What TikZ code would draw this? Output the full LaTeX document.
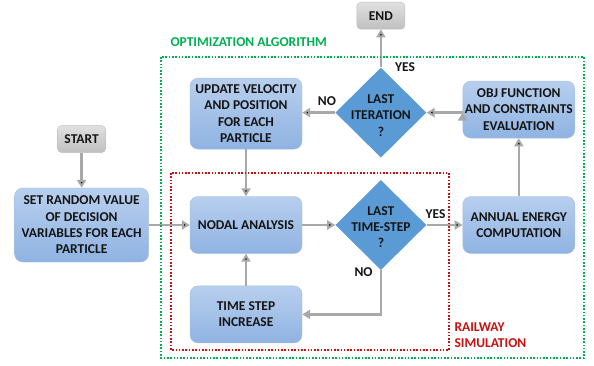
\documentclass[tikz,border=0pt]{standalone}
\usepackage{fontspec}
\setmainfont{Carlito}
\usetikzlibrary{arrows.meta,positioning,shapes.geometric}
\definecolor{boxtop}{RGB}{184,207,238}
\definecolor{boxbot}{RGB}{143,179,226}
\definecolor{boxline}{RGB}{165,192,230}
\definecolor{decfill}{RGB}{91,155,213}
\definecolor{termtop}{RGB}{224,224,224}
\definecolor{termbot}{RGB}{192,192,192}
\definecolor{flowgray}{RGB}{168,168,168}
\definecolor{optgreen}{RGB}{0,176,80}
\definecolor{simred}{RGB}{200,16,16}
\definecolor{inkdark}{RGB}{20,20,20}
\tikzstyle{block}=[rectangle,rounded corners=8pt,draw=boxline,
top color=boxtop,bottom color=boxbot,text=inkdark,align=center,
minimum width=112pt,minimum height=57pt,inner sep=2pt]
\tikzstyle{decision}=[diamond,fill=decfill,minimum width=91pt,
minimum height=90pt,inner sep=0pt]
\tikzstyle{terminal}=[rectangle,rounded corners=4pt,draw=termbot,
top color=termtop,bottom color=termbot,text=inkdark,
minimum width=48pt,minimum height=27pt]
\tikzstyle{flow}=[-{Triangle[length=8pt,width=9pt]},line width=2.6pt,draw=flowgray]
\tikzstyle{answer}=[text=inkdark,inner sep=1pt]
\tikzstyle{frame}=[line width=1.6pt,dash pattern=on 1.6pt off 1.7pt]

\begin{document}
\begin{tikzpicture}[x=1pt,y=-1pt,node distance=35pt,
  font=\fontsize{13.5}{16.3}\selectfont\bfseries,
  every label/.style={text=inkdark,align=center}]
            \useasboundingbox (0,0) rectangle (594,366);

            % RAILWAY SIMULATION PART

            \node[block] (nodal) at (246,225) {NODAL ANALYSIS};
            \node[decision,right=33pt of nodal,
              label={[yshift=-2pt]center:LAST\\TIME-STEP\\?}] (tsdec) {};
            \node[block,below=32pt of nodal] (timestep) {TIME STEP\\INCREASE};

            \path[flow] (nodal) edge node {} (tsdec);
            \path[flow] (timestep) edge node {} (nodal);
            \draw[flow] (tsdec.south) |- node[answer,pos=0,left=6pt,yshift=-2pt] {NO} (timestep.east);

            % OPTIMIZATION PART

            \node[block,right=36pt of tsdec] (annual) {ANNUAL ENERGY\\COMPUTATION};
            \node[decision,above=22pt of tsdec,
              label={[yshift=-3pt]center:LAST\\ITERATION\\?}] (itdec) {};
            \node[block,right=36pt of itdec,yshift=3pt] (obj) {OBJ FUNCTION\\AND CONSTRAINTS\\EVALUATION};
            \node[block,above=47pt of nodal,minimum height=71pt] (update) {UPDATE VELOCITY\\AND POSITION\\FOR EACH\\PARTICLE};
            \node[block,left=41pt of nodal,minimum width=134pt,minimum height=74pt] (set) {SET RANDOM VALUE\\OF DECISION\\VARIABLES FOR EACH\\PARTICLE};
            \node[terminal,above=35pt of set] (start) {START};
            \node[terminal,above=38pt of itdec] (end) {END};

            \path[flow] (start) edge node {} (set);
            \path[flow] (set) edge node {} (nodal);
            \path[flow] (update) edge node {} (nodal);
            \path[flow] (tsdec) edge node[answer,pos=0.25,above=4pt] {YES} (annual);
            \path[flow] (annual) edge node {} (annual |- obj.south);
            \path[flow] (obj.west |- itdec) edge node {} (itdec);
            \path[flow] (itdec) edge node[answer,pos=0.25,above=5pt] {NO} (update.east |- itdec);
            \path[flow] (itdec) edge node[answer,pos=0,right=12pt] {YES} (end);

            % Frames

            \draw[frame,draw=optgreen] (161,57) rectangle (584,358);
            \draw[frame,draw=simred] (171,173) rectangle (449,350);
            \node[text=optgreen,anchor=west] (optlabel) at (167,42) {OPTIMIZATION ALGORITHM};
            \node[text=simred,anchor=north west,align=left] (simlabel) at (451,319) {RAILWAY\\SIMULATION};

        \end{tikzpicture}
\end{document}
